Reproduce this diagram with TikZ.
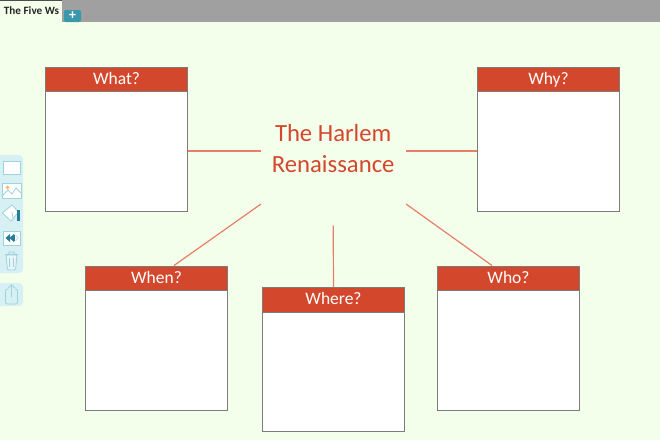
\documentclass[tikz,border=0pt]{standalone}
\usepackage{fontspec}
\setmainfont{Carlito}
\definecolor{PageGreen}{RGB}{244,255,235}
\definecolor{HeadRed}{RGB}{211,72,45}
\definecolor{LinkRed}{RGB}{228,128,104}
\definecolor{BoxGrey}{RGB}{125,125,120}
\definecolor{BarGrey}{RGB}{160,160,160}
\definecolor{TabTeal}{RGB}{58,152,172}
\definecolor{PanelBlue}{RGB}{214,240,244}
\definecolor{IconBlue}{RGB}{160,210,222}
\definecolor{IconDark}{RGB}{40,125,150}
\tikzset{
  bodybox/.style={draw=BoxGrey, fill=white, line width=0.7pt, minimum width=142.5pt, minimum height=144pt, inner sep=0pt},
  headbox/.style={draw=BoxGrey, fill=HeadRed, text=white, line width=0.5pt, minimum width=142pt, minimum height=24.5pt, text height=14pt, text depth=3.5pt, inner sep=0pt, font=\fontsize{17.5}{20}\selectfont},
  link/.style={draw=LinkRed, line width=1.2pt},
  topicbox/.style={text=HeadRed, minimum width=145pt, minimum height=149pt, inner sep=0pt, align=center, font=\fontsize{24.7}{31}\selectfont},
  icon/.style={draw=IconBlue, fill=white, line width=0.8pt}
}
\begin{document}
\begin{tikzpicture}[x=1pt, y=-1pt]
\useasboundingbox (0,0) rectangle (660,440);
\fill[PageGreen] (0,0) rectangle (660,440);
% tab strip
\fill[BarGrey] (62,0) rectangle (660,22);
\fill[black!70] (0,0) rectangle (62,1);
\node[font=\bfseries\fontsize{11.2}{13}\selectfont, text=black!85] (tab) at (31.5,11) {The Five Ws};
\fill[TabTeal, rounded corners=2pt] (64,10) rectangle (81,22);
\node[text=white, font=\bfseries\fontsize{14}{14}\selectfont, inner sep=0pt] (plus) at (72.5,16) {+};
% side panels
\fill[PanelBlue, rounded corners=4pt] (-6,155) rectangle (23,273);
\fill[PanelBlue, rounded corners=4pt] (-6,283) rectangle (23,306);
\draw[icon] (3,161) rectangle (20,174);
\draw[icon] (2,183.5) rectangle (21,198);
\draw[IconBlue, line width=0.8pt] (2,196) -- (8,190) -- (12,194) -- (16,188) -- (21,193);
\fill[orange!60] (7.5,187.5) circle (1.8);
\draw[icon] (2.5,213) -- (12,205) -- (18.5,212) -- (11,221) -- cycle;
\draw[IconBlue, line width=0.8pt] (12,212) -- (13,218);
\fill[IconDark] (17,210) rectangle (19.5,220.5);
\draw[icon] (3.5,231) rectangle (20,245);
\fill[IconDark] (5.5,238) -- (10,234) -- (10,242) -- cycle;
\fill[IconDark] (9.5,238) -- (14,234) -- (14,242) -- cycle;
\fill[IconDark] (14,235) rectangle (15,241);
\draw[IconBlue, line width=0.5pt] (15.5,235) -- (18,238) -- (15.5,241);
\draw[IconBlue, line width=0.8pt, rounded corners=1pt, fill=PanelBlue!60!white] (6,255) -- (7.5,270) -- (15.5,270) -- (17,255) -- cycle;
\draw[IconBlue, line width=0.8pt] (5,254.5) -- (18,254.5) (8.5,254.5) -- (9,252) -- (14,252) -- (14.5,254.5);
\draw[IconBlue, line width=0.8pt] (9.5,258) -- (9.5,267) (13.5,258) -- (13.5,267);
\draw[IconBlue, line width=0.8pt, rounded corners=2pt] (8,289) -- (5.5,289) -- (5.5,304) -- (17.5,304) -- (17.5,289) -- (15,289);
\draw[IconBlue, line width=0.8pt] (11.5,297) -- (11.5,285) (8,288) -- (11.5,285) -- (15,288);
% the boxes
\node[bodybox] (what) at (116.5,139) {};
\node[bodybox] (why) at (548.5,139) {};
\node[bodybox] (when) at (156.5,338) {};
\node[bodybox] (where) at (333.5,359.5) {};
\node[bodybox] (who) at (508.5,338) {};
\node[headbox] (whathead) at (116.5,79) {What?};
\node[headbox] (whyhead) at (548.5,79) {Why?};
\node[headbox] (whenhead) at (156.5,278) {When?};
\node[headbox] (wherehead) at (333.5,299.5) {Where?};
\node[headbox] (whohead) at (508.5,278) {Who?};
\node[topicbox] (topic) at (333.2,151) {\raisebox{6pt}{The Harlem}\\\raisebox{6pt}{Renaissance}};
\coordinate (topicsw) at (261,204);
\coordinate (topicse) at (406,204);
\coordinate (whentop) at (174,265.5);
\coordinate (whotop) at (492,265.5);
% links
\draw[link] (topic.west) -- (topic.west -| what.east);
\draw[link] (topic.east) -- (topic.east -| why.west);
\draw[link] (topicsw) -- (whentop);
\draw[link] (topic.south) -- (wherehead.north);
\draw[link] (topicse) -- (whotop);
\end{tikzpicture}
\end{document}
